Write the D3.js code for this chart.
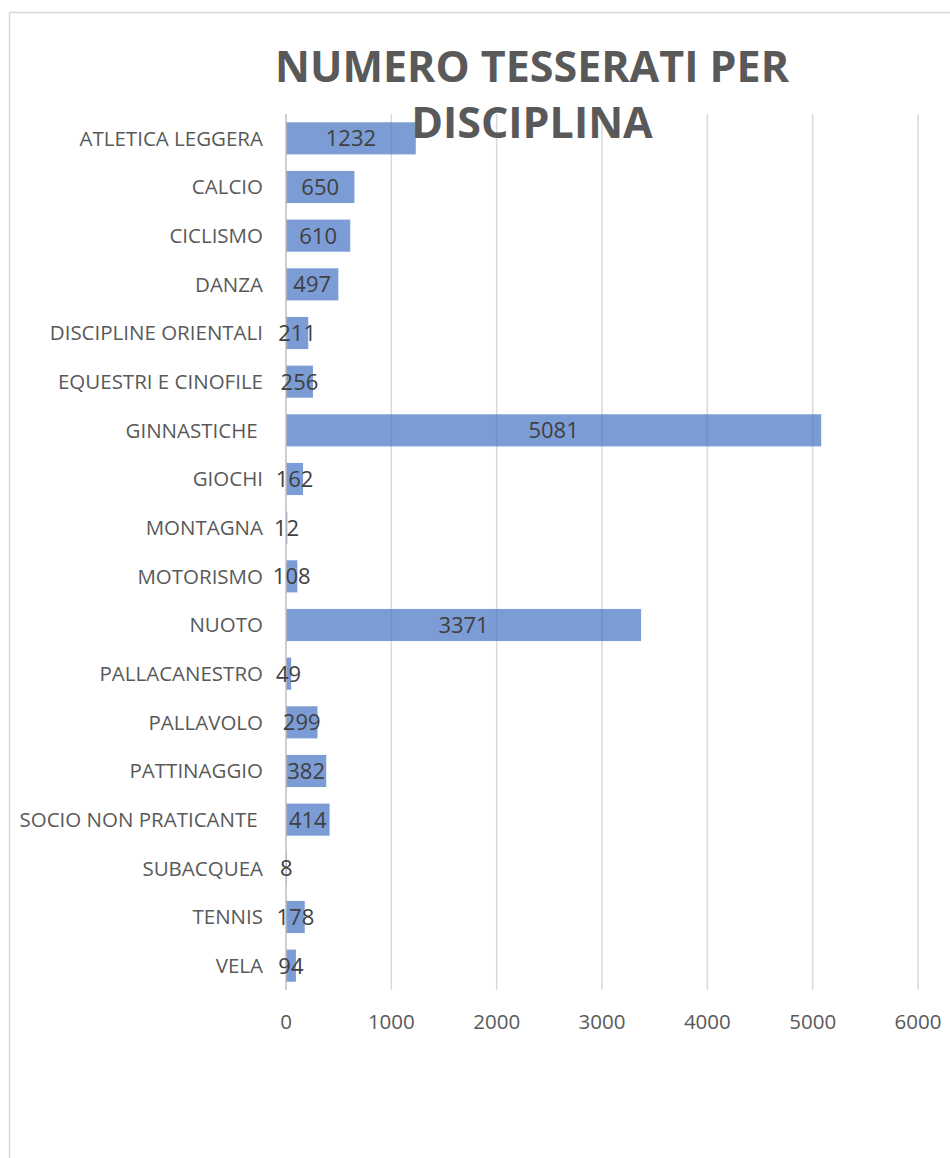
<!DOCTYPE html>
<html>
<head>
<meta charset="utf-8">
<script src="https://cdn.jsdelivr.net/npm/d3@7"></script>
<style>
  body { margin: 0; background: #fff; }
  svg { display: block; font-family: "Open Sans", sans-serif; }
  text { white-space: pre; }
</style>
</head>
<body>
<svg class="svg"></svg>
<script>
const categories = ["ATLETICA LEGGERA", "CALCIO", "CICLISMO", "DANZA", "DISCIPLINE ORIENTALI",
  "EQUESTRI E CINOFILE", "GINNASTICHE ", "GIOCHI", "MONTAGNA", "MOTORISMO", "NUOTO",
  "PALLACANESTRO", "PALLAVOLO", "PATTINAGGIO", "SOCIO NON PRATICANTE ", "SUBACQUEA", "TENNIS", "VELA"];
const values = [1232, 650, 610, 497, 211, 256, 5081, 162, 12, 108, 3371, 49, 299, 382, 414, 8, 178, 94];
const xTicks = [0, 1000, 2000, 3000, 4000, 5000, 6000];
const titleLines = ["NUMERO TESSERATI PER", "DISCIPLINA"];

const width = 950, height = 1158;
const plot = { left: 286, right: 918, top: 114, bottom: 990 };

const svg = d3.select(".svg")
  .attr("width", width)
  .attr("height", height);

// chart frame
svg.append("rect")
  .attr("x", 9.5).attr("y", 12.5)
  .attr("width", 1000).attr("height", 1200)
  .attr("fill", "none")
  .attr("stroke", "#d9d9d9")
  .attr("stroke-width", 1.5);

const x = d3.scaleLinear().domain([0, 6000]).range([plot.left, plot.right]);
const y = d3.scaleBand().domain(categories).range([plot.top, plot.bottom]).paddingInner(0.34).paddingOuter(0.17);

// gridlines
svg.append("g")
  .selectAll("line")
  .data(xTicks.slice(1))
  .join("line")
  .attr("x1", d => x(d)).attr("x2", d => x(d))
  .attr("y1", plot.top).attr("y2", plot.bottom)
  .attr("stroke", "#d9d9d9")
  .attr("stroke-width", 1.5);

// bars
const data = categories.map((c, i) => ({ cat: c, value: values[i] }));

svg.append("g")
  .selectAll("rect")
  .data(data)
  .join("rect")
  .attr("x", x(0))
  .attr("y", d => y(d.cat))
  .attr("width", d => x(d.value) - x(0))
  .attr("height", y.bandwidth())
  .attr("fill", "#4472C4")
  .attr("opacity", 0.7);

// vertical axis line
svg.append("line")
  .attr("x1", x(0)).attr("x2", x(0))
  .attr("y1", plot.top).attr("y2", plot.bottom)
  .attr("stroke", "#bfbfbf")
  .attr("stroke-width", 1.5);

// value labels
svg.append("g")
  .selectAll("text")
  .data(data)
  .join("text")
  .attr("x", d => (x(0) + x(d.value)) / 2)
  .attr("y", d => y(d.cat) + y.bandwidth() / 2)
  .attr("dy", "0.36em")
  .attr("text-anchor", "middle")
  .attr("font-size", 22)
  .attr("fill", "#404040")
  .text(d => d.value);

// category labels
svg.append("g")
  .selectAll("text")
  .data(categories)
  .join("text")
  .attr("x", 263)
  .attr("y", d => y(d) + y.bandwidth() / 2)
  .attr("dy", "0.36em")
  .attr("text-anchor", "end")
  .attr("font-size", 20.5)
  .attr("fill", "#595959")
  .text(d => d);

// x tick labels
svg.append("g")
  .selectAll("text")
  .data(xTicks)
  .join("text")
  .attr("x", d => x(d))
  .attr("y", 1022)
  .attr("dy", "0.36em")
  .attr("text-anchor", "middle")
  .attr("font-size", 20.5)
  .attr("fill", "#595959")
  .text(d => d);

// title
svg.append("g")
  .selectAll("text")
  .data(titleLines)
  .join("text")
  .attr("x", 532)
  .attr("y", (d, i) => 82 + i * 56)
  .attr("text-anchor", "middle")
  .attr("font-size", 43)
  .attr("font-weight", "bold")
  .attr("fill", "#595959")
  .text(d => d);
</script>
</body>
</html>
